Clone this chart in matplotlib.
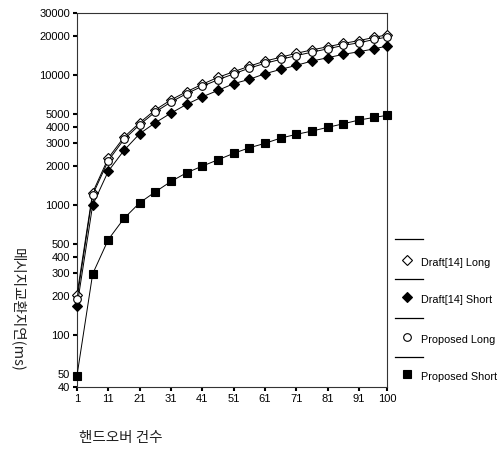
import matplotlib
matplotlib.use("Agg")
import matplotlib.pyplot as plt
from matplotlib.lines import Line2D
from matplotlib.ticker import FixedLocator, NullLocator

# -------------------------------
# data
# -------------------------------
handovers = [1, 6, 11, 16, 21, 26, 31, 36, 41, 46, 51, 56, 61, 66, 71, 76, 81, 86, 91, 96, 100]

draft_long = [205, 1250, 2300, 3330, 4300, 5400, 6450, 7450, 8500, 9600, 10600,
              11700, 12800, 13700, 14700, 15600, 16500, 17500, 18400, 19500, 20400]
draft_short = [167, 1000, 1826, 2635, 3540, 4300, 5100, 5950, 6800, 7620, 8580,
               9270, 10230, 11050, 11870, 12810, 13590, 14420, 15105, 15930, 16710]
proposed_long = [190, 1200, 2200, 3200, 4150, 5200, 6200, 7200, 8200, 9200, 10200,
                 11300, 12300, 13200, 14100, 15000, 15900, 16900, 17700, 18800, 19600]
proposed_short = [49, 296, 544, 790, 1042, 1265, 1520, 1774, 1995, 2231, 2500,
                  2760, 2984, 3276, 3499, 3710, 3960, 4220, 4507, 4730, 4900]

series_names = ["Draft[14] Long", "Draft[14] Short", "Proposed Long", "Proposed Short"]

x_ticks = [1, 11, 21, 31, 41, 51, 61, 71, 81, 91, 100]
y_ticks = [40, 50, 100, 200, 300, 400, 500, 1000, 2000, 3000, 4000, 5000, 10000, 20000, 30000]

# -------------------------------
# plot
# -------------------------------
plt.rcParams["font.family"] = ["Liberation Sans", "DejaVu Sans"]
kfont = ["Noto Sans CJK KR", "DejaVu Sans"]

fig = plt.figure(figsize=(5.04, 4.53), dpi=100)
ax = fig.add_axes([77 / 504, 1 - 387 / 453, 310 / 504, 374 / 453])

styles = [
    dict(marker="D", mfc="white", mec="black", ms=5.5),
    dict(marker="D", mfc="black", mec="black", ms=5.5),
    dict(marker="o", mfc="white", mec="black", ms=5.5),
    dict(marker="s", mfc="black", mec="black", ms=5.5),
]
all_series = [draft_long, draft_short, proposed_long, proposed_short]

for vals, st in zip(all_series, styles):
    ax.plot(handovers, vals, color="black", lw=0.7, mew=0.8, clip_on=False, zorder=3, **st)

ax.set_yscale("log")
ax.set_xlim(1, 100)
ax.set_ylim(40, 30000)
ax.xaxis.set_major_locator(FixedLocator(x_ticks))
ax.yaxis.set_major_locator(FixedLocator(y_ticks))
ax.yaxis.set_minor_locator(NullLocator())
ax.set_xticklabels([str(t) for t in x_ticks])
ax.set_yticklabels([str(t) for t in y_ticks])
ax.tick_params(direction="out", length=3, width=1.5, labelsize=8, pad=2, colors="black")

for sp in ax.spines.values():
    sp.set_linewidth(0.8)
    sp.set_color("#333333")

# korean axis labels
fig.text(18 / 504, 1 - 310 / 453, "메시지교환지연(ms)", rotation=270, ha="center", va="center",
         fontsize=10.5, family=kfont, color="#222222")
fig.text(121 / 504, 1 - 438 / 453, "핸드오버 건수", ha="center", va="center",
         fontsize=10.5, family=kfont, color="#222222")

# legend drawn by hand: line above, marker + name below
line_y = [239, 279, 318, 357]
mark_y = [260, 297, 337, 374]
for name, st, ly, my in zip(series_names, styles, line_y, mark_y):
    fig.add_artist(Line2D([395 / 504, 423 / 504], [1 - ly / 453, 1 - ly / 453],
                          color="black", lw=0.9, transform=fig.transFigure))
    fig.add_artist(Line2D([407 / 504], [1 - my / 453], linestyle="none", color="black",
                          mew=0.8, transform=fig.transFigure, **st))
    fig.text(421 / 504, 1 - (my + 3) / 453, name, fontsize=7.8, ha="left", va="center")

fig.savefig("out.png", dpi=100)
